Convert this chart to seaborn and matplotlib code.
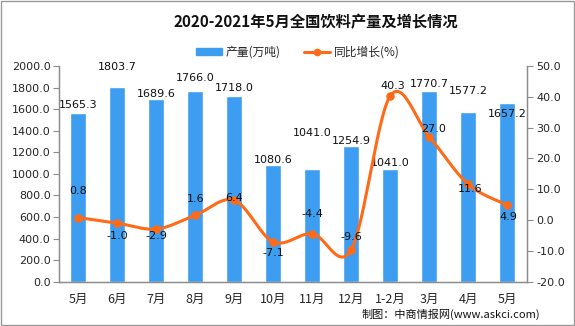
import numpy as np
import pandas as pd
import matplotlib
matplotlib.use("Agg")
import matplotlib.pyplot as plt
from matplotlib.patches import Rectangle
from matplotlib.lines import Line2D
from matplotlib.patches import Patch
import seaborn as sns

# ---- data ----
categories = ["5月", "6月", "7月", "8月", "9月", "10月", "11月", "12月", "1-2月", "3月", "4月", "5月"]
production = [1565.3, 1803.7, 1689.6, 1766.0, 1718.0, 1080.6, 1041.0, 1254.9, 1041.0, 1770.7, 1577.2, 1657.2]
growth = [0.8, -1.0, -2.9, 1.6, 6.4, -7.1, -4.4, -9.6, 40.3, 27.0, 11.6, 4.9]
left_ticks = [0, 200, 400, 600, 800, 1000, 1200, 1400, 1600, 1800, 2000]
right_ticks = [-20, -10, 0, 10, 20, 30, 40, 50]

# label offsets (pixels; positive = down / right)
bar_label_dy = [-8, -20, -5, -13, -8, -5, -36, -5, -6, -7, -21, 11]
line_label_dy = [-27, 13, 7, -16, -2, 11, -20, -13, -10, -8, 5, 12]
line_label_dx = [0, 0, 0, 0, 0, 0, 0, 0, 3, 4, 2, 1]

BLUE = "#3d9df0"
ORANGE = "#ff6a17"
GRAY = "#8c8c8c"

sns.set_theme(style="white")
plt.rcParams["font.family"] = ["Noto Sans CJK SC", "DejaVu Sans"]
plt.rcParams["axes.unicode_minus"] = False

fig = plt.figure(figsize=(5.75, 3.26), dpi=100)
ax = fig.add_axes([59 / 575, 1 - 281.7 / 326, (526.7 - 59) / 575, (281.7 - 66) / 326])

df = pd.DataFrame({"cat": categories, "prod": production, "idx": range(len(categories))})
sns.barplot(data=df, x="idx", y="prod", color=BLUE, width=0.41, ax=ax, saturation=1, order=range(len(categories)))
ax.set_xlim(-0.5, len(categories) - 0.5)
ax.set_ylim(0, 2000)
ax.set_yticks(left_ticks)
ax.set_yticklabels([f"{v:.1f}" for v in left_ticks], fontsize=8, family="DejaVu Sans")
ax.set_xticks(range(len(categories)))
ax.set_xticklabels(categories, fontsize=9)
ax.set_xticks(np.arange(-0.5, len(categories), 1.0), minor=True)
ax.tick_params(axis="x", which="major", length=0, pad=8)
ax.tick_params(axis="x", which="minor", length=4, color=GRAY, width=0.8, direction="out")
ax.tick_params(axis="y", length=4, color=GRAY, width=0.8, direction="out", left=True, pad=2)
ax.set_xlabel("")
ax.set_ylabel("")
for s in ["left", "bottom", "right"]:
    ax.spines[s].set_color(GRAY)
    ax.spines[s].set_linewidth(0.9)
ax.spines["top"].set_visible(False)

for i, v in enumerate(production):
    ax.annotate(f"{v:.1f}", (i, v), xytext=(0, -bar_label_dy[i]), textcoords="offset pixels",
                ha="center", va="center", fontsize=8, family="DejaVu Sans", color="#111111")

# ---- right axis: growth line (smoothed Catmull-Rom/Bezier through data points) ----
ax2 = ax.twinx()
x = np.arange(len(growth), dtype=float)
y = np.array(growth, dtype=float)
pts = np.column_stack([x, y])
curve = []
t = np.linspace(0, 1, 30)
for i in range(len(pts) - 1):
    p0 = pts[i - 1] if i > 0 else pts[i]
    p1 = pts[i]
    p2 = pts[i + 1]
    p3 = pts[i + 2] if i + 2 < len(pts) else pts[i + 1]
    c1 = p1 + (p2 - p0) / 6.0
    c2 = p2 - (p3 - p1) / 6.0
    seg = ((1 - t) ** 3)[:, None] * p1 + (3 * (1 - t) ** 2 * t)[:, None] * c1 + \
          (3 * (1 - t) * t ** 2)[:, None] * c2 + (t ** 3)[:, None] * p2
    curve.append(seg if i == 0 else seg[1:])
curve = np.vstack(curve)
smooth = pd.DataFrame({"x": curve[:, 0], "y": curve[:, 1]})
sns.lineplot(data=smooth, x="x", y="y", sort=False, color=ORANGE, linewidth=2.2, ax=ax2)
gdf = pd.DataFrame({"x": x, "g": y})
sns.scatterplot(data=gdf, x="x", y="g", color=ORANGE, s=38, edgecolor=ORANGE, linewidth=0, ax=ax2, zorder=5)
ax2.set_ylim(-20, 50)
ax2.set_xlim(-0.5, len(categories) - 0.5)
ax2.set_yticks(right_ticks)
ax2.set_yticklabels([f"{v:.1f}" for v in right_ticks], fontsize=8, family="DejaVu Sans")
ax2.tick_params(axis="y", length=4, color=GRAY, width=0.8, direction="out", right=True, pad=3)
ax2.set_xlabel("")
ax2.set_ylabel("")
for s in ["left", "bottom", "right"]:
    ax2.spines[s].set_color(GRAY)
    ax2.spines[s].set_linewidth(0.9)
ax2.spines["top"].set_visible(False)
if ax2.get_legend():
    ax2.get_legend().remove()

for i, v in enumerate(growth):
    ax2.annotate(f"{v:.1f}", (i, v), xytext=(line_label_dx[i], -line_label_dy[i]), textcoords="offset pixels",
                 ha="center", va="center", fontsize=8, family="DejaVu Sans", color="#111111", zorder=6)

# ---- title, legend, footer ----
fig.text(316 / 575, 1 - 22 / 326, "2020-2021年5月全国饮料产量及增长情况", ha="center", va="center",
         fontsize=11, fontweight="bold", color="#111111")
handles = [Patch(facecolor=BLUE, edgecolor=BLUE),
           Line2D([0], [0], color=ORANGE, lw=2.2, marker="o", markersize=4.5)]
fig.legend(handles, ["产量(万吨)", "同比增长(%)"], loc="center", bbox_to_anchor=(298 / 575, 1 - 52 / 326),
           ncol=2, frameon=False, fontsize=8.5, handlelength=2.2, handleheight=0.6, columnspacing=2.0,
           handletextpad=0.3)
fig.text(540 / 575, 1 - 314 / 326, "制图：中商情报网(www.askci.com)", ha="right", va="center",
         fontsize=8, color="#111111")

fig.patches.append(Rectangle((0.001, 0.002), 0.997, 0.995, transform=fig.transFigure, fill=False,
                             edgecolor="#9a9a9a", linewidth=1.0))

fig.savefig("out.png", dpi=100)
